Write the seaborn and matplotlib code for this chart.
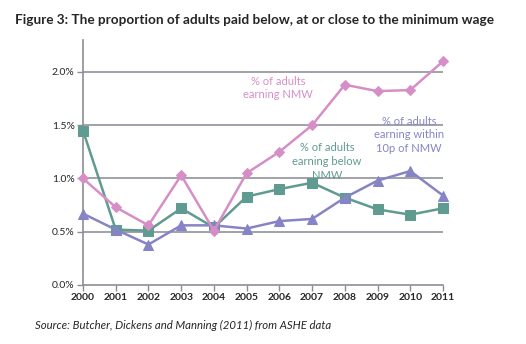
import matplotlib
matplotlib.use("Agg")
import matplotlib.pyplot as plt
import seaborn as sns
import pandas as pd
from matplotlib.ticker import FuncFormatter

years = [2000, 2001, 2002, 2003, 2004, 2005, 2006, 2007, 2008, 2009, 2010, 2011]
earning_nmw = [1.00, 0.73, 0.56, 1.03, 0.51, 1.05, 1.25, 1.50, 1.88, 1.82, 1.83, 2.10]
earning_below = [1.45, 0.52, 0.51, 0.72, 0.54, 0.83, 0.90, 0.96, 0.82, 0.71, 0.66, 0.72]
earning_within = [0.67, 0.52, 0.38, 0.56, 0.56, 0.53, 0.60, 0.62, 0.82, 0.98, 1.07, 0.84]
y_ticks = [0.0, 0.5, 1.0, 1.5, 2.0]

series_names = ["% of adults earning NMW",
                "% of adults earning below NMW",
                "% of adults earning within 10p of NMW"]
colors = ["#D68FC6", "#5F9B90", "#8784C6"]
markers = ["D", "s", "^"]
sizes = [5, 7.5, 7]

df = pd.concat([
    pd.DataFrame({"year": years, "share": vals, "series": name})
    for name, vals in zip(series_names, [earning_nmw, earning_below, earning_within])
])

sns.set_style("white")
plt.rcParams["font.family"] = ["Lato", "DejaVu Sans"]

fig = plt.figure(figsize=(5.26, 3.44), dpi=100)
ax = fig.add_axes([83 / 526, 1 - 285 / 344, 360 / 526, 245 / 344])

# grid lines behind the data
for v in y_ticks[1:]:
    ax.axhline(v, color="#9A9AA4", lw=1.3, zorder=0)

# draw order: below NMW, within 10p, NMW on top
for idx in [1, 2, 0]:
    name = series_names[idx]
    sub = df[df["series"] == name]
    sns.lineplot(data=sub, x="year", y="share", ax=ax, color=colors[idx],
                 marker=markers[idx], markersize=sizes[idx],
                 markeredgecolor=colors[idx], linewidth=1.8,
                 legend=False, clip_on=False, zorder=3)

ax.set_xlim(2000, 2011)
ax.set_ylim(0, 2.3)
ax.set_xticks(years)
ax.set_xticklabels([str(y) for y in years], fontsize=7.5, fontweight="bold")
ax.set_yticks(y_ticks)
ax.yaxis.set_major_formatter(FuncFormatter(lambda v, p: f"{v:.1f}%"))
for t in ax.get_yticklabels():
    t.set_fontsize(7.5)
ax.set_xlabel("")
ax.set_ylabel("")

for s in ["top", "right"]:
    ax.spines[s].set_visible(False)
for s in ["left", "bottom"]:
    ax.spines[s].set_color("#8C8C96")
    ax.spines[s].set_linewidth(1.2)
ax.tick_params(axis="both", which="both", length=4, width=1, color="#8C8C96",
               direction="out", pad=2, left=True, bottom=True)

# series labels placed next to their lines
ax.text(2005.96, 1.85, "% of adults\nearning NMW",
        color=colors[0], fontsize=8, ha="center", va="center", linespacing=1.3)
ax.text(2007.46, 1.16, "% of adults\nearning below\nNMW",
        color=colors[1], fontsize=8, ha="center", va="center", linespacing=1.3)
ax.text(2009.96, 1.41, "% of adults\nearning within\n10p of NMW",
        color=colors[2], fontsize=8, ha="center", va="center", linespacing=1.3)

fig.text(15 / 526, 1 - 20 / 344, "Figure 3: The proportion of adults paid below, at or close to the minimum wage",
         fontsize=9.8, fontweight="bold", ha="left", va="center")
fig.text(35 / 526, 1 - 325 / 344, "Source: Butcher, Dickens and Manning (2011) from ASHE data",
         fontsize=8.2, style="italic", ha="left", va="center")

fig.savefig("out.png", dpi=100)
